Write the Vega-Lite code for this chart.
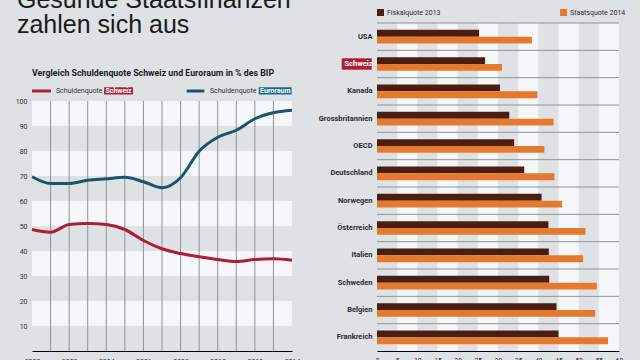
{
  "$schema": "https://vega.github.io/schema/vega-lite/v6.json",
  "width": 588,
  "height": 328,
  "autosize": {"type": "none"},
  "padding": {"left": 32, "top": 23, "right": 20, "bottom": 9},
  "background": "#dfe2e5",
  "config": {
    "view": {"stroke": null},
    "font": "Roboto, sans-serif",
    "axis": {"grid": false, "ticks": false, "labelColor": "#333333", "labelFont": "Roboto, sans-serif", "labelOverlap": false},
    "legend": {"labelFont": "Roboto, sans-serif"}
  },
  "datasets": {
    "debt": [
      {"year": 2000, "series": "Schweiz", "value": 48.6},
      {"year": 2001, "series": "Schweiz", "value": 47.5},
      {"year": 2002, "series": "Schweiz", "value": 50.6},
      {"year": 2003, "series": "Schweiz", "value": 51.0},
      {"year": 2004, "series": "Schweiz", "value": 50.6},
      {"year": 2005, "series": "Schweiz", "value": 48.6},
      {"year": 2006, "series": "Schweiz", "value": 44.2},
      {"year": 2007, "series": "Schweiz", "value": 40.9},
      {"year": 2008, "series": "Schweiz", "value": 39.0},
      {"year": 2009, "series": "Schweiz", "value": 37.7},
      {"year": 2010, "series": "Schweiz", "value": 36.6},
      {"year": 2011, "series": "Schweiz", "value": 35.8},
      {"year": 2012, "series": "Schweiz", "value": 36.6},
      {"year": 2013, "series": "Schweiz", "value": 36.9},
      {"year": 2014, "series": "Schweiz", "value": 36.3},
      {"year": 2000, "series": "Euroraum", "value": 69.7},
      {"year": 2001, "series": "Euroraum", "value": 67.0},
      {"year": 2002, "series": "Euroraum", "value": 67.0},
      {"year": 2003, "series": "Euroraum", "value": 68.3},
      {"year": 2004, "series": "Euroraum", "value": 68.9},
      {"year": 2005, "series": "Euroraum", "value": 69.5},
      {"year": 2006, "series": "Euroraum", "value": 67.7},
      {"year": 2007, "series": "Euroraum", "value": 65.3},
      {"year": 2008, "series": "Euroraum", "value": 69.3},
      {"year": 2009, "series": "Euroraum", "value": 79.9},
      {"year": 2010, "series": "Euroraum", "value": 85.5},
      {"year": 2011, "series": "Euroraum", "value": 88.3},
      {"year": 2012, "series": "Euroraum", "value": 92.9},
      {"year": 2013, "series": "Euroraum", "value": 95.3},
      {"year": 2014, "series": "Euroraum", "value": 96.3}
    ],
    "quota": [
      {"country": "USA", "series": "Fiskalquote 2013", "value": 25.3},
      {"country": "USA", "series": "Staatsquote 2014", "value": 38.4},
      {"country": "Schweiz", "series": "Fiskalquote 2013", "value": 26.8},
      {"country": "Schweiz", "series": "Staatsquote 2014", "value": 31.0},
      {"country": "Kanada", "series": "Fiskalquote 2013", "value": 30.5},
      {"country": "Kanada", "series": "Staatsquote 2014", "value": 39.8},
      {"country": "Grossbritannien", "series": "Fiskalquote 2013", "value": 32.8},
      {"country": "Grossbritannien", "series": "Staatsquote 2014", "value": 43.8},
      {"country": "OECD", "series": "Fiskalquote 2013", "value": 34.0},
      {"country": "OECD", "series": "Staatsquote 2014", "value": 41.5},
      {"country": "Deutschland", "series": "Fiskalquote 2013", "value": 36.5},
      {"country": "Deutschland", "series": "Staatsquote 2014", "value": 44.0},
      {"country": "Norwegen", "series": "Fiskalquote 2013", "value": 40.8},
      {"country": "Norwegen", "series": "Staatsquote 2014", "value": 45.9},
      {"country": "Österreich", "series": "Fiskalquote 2013", "value": 42.5},
      {"country": "Österreich", "series": "Staatsquote 2014", "value": 51.7},
      {"country": "Italien", "series": "Fiskalquote 2013", "value": 42.6},
      {"country": "Italien", "series": "Staatsquote 2014", "value": 51.1},
      {"country": "Schweden", "series": "Fiskalquote 2013", "value": 42.7},
      {"country": "Schweden", "series": "Staatsquote 2014", "value": 54.5},
      {"country": "Belgien", "series": "Fiskalquote 2013", "value": 44.5},
      {"country": "Belgien", "series": "Staatsquote 2014", "value": 54.1},
      {"country": "Frankreich", "series": "Fiskalquote 2013", "value": 45.0},
      {"country": "Frankreich", "series": "Staatsquote 2014", "value": 57.3}
    ],
    "hbands": [
      {"lo": 90, "hi": 100},
      {"lo": 70, "hi": 80},
      {"lo": 50, "hi": 60},
      {"lo": 30, "hi": 40},
      {"lo": 10, "hi": 20}
    ],
    "vbands": [
      {"lo": 5, "hi": 10},
      {"lo": 15, "hi": 20},
      {"lo": 25, "hi": 30},
      {"lo": 35, "hi": 40},
      {"lo": 45, "hi": 50},
      {"lo": 55, "hi": 60}
    ]
  },
  "resolve": {"scale": {"x": "independent", "y": "independent", "color": "independent"}},
  "layer": [
    {
      "layer": [
        {
          "data": {"name": "hbands"},
          "mark": {"type": "rect", "fill": "#f5f6f8"},
          "encoding": {
            "x": {"datum": 2000, "type": "quantitative",
                  "scale": {"domain": [2000, 2014], "range": [0, 260], "nice": false, "zero": false}},
            "x2": {"datum": 2014},
            "y": {"field": "lo", "type": "quantitative",
                  "scale": {"domain": [0, 100], "range": [328, 78], "nice": false, "zero": false}},
            "y2": {"field": "hi"}
          }
        },
        {
          "data": {"name": "debt"},
          "transform": [{"filter": "datum.series == 'Schweiz' && datum.year > 2000 && datum.year < 2014"}],
          "mark": {"type": "rule", "color": "#8e9398", "strokeWidth": 1},
          "encoding": {
            "x": {"field": "year", "type": "quantitative"},
            "y": {"datum": 0},
            "y2": {"datum": 100}
          }
        },
        {
          "data": {"name": "debt"},
          "mark": {"type": "line", "strokeWidth": 3, "interpolate": "monotone"},
          "encoding": {
            "x": {"field": "year", "type": "quantitative",
                  "scale": {"domain": [2000, 2014], "range": [0, 260], "nice": false, "zero": false},
                  "axis": {"title": null, "orient": "bottom", "values": [2000, 2002, 2004, 2006, 2008, 2010, 2012, 2014], "tickCount": 30, "format": "d", "labelPadding": 6, "labelFontSize": 7, "labelOverlap": false, "labelFlush": false, "domainColor": "#000000", "domainWidth": 1}},
            "y": {"field": "value", "type": "quantitative",
                  "scale": {"domain": [0, 100], "range": [328, 78], "nice": false, "zero": false},
                  "axis": {"title": null, "orient": "left", "values": [10, 20, 30, 40, 50, 60, 70, 80, 90, 100], "tickCount": 30, "labelPadding": 5, "labelFontSize": 7, "labelOverlap": false, "labelFlush": false, "domain": false}},
            "color": {"field": "series", "type": "nominal", "scale": {"domain": ["Schweiz", "Euroraum"], "range": ["#ab1f36", "#17566e"]}, "legend": null}
          }
        },
        {
          "data": {"values": [{}]},
          "mark": {"type": "text", "text": "Gesunde Staatsfinanzen", "align": "left", "baseline": "alphabetic", "fontSize": 25, "font": "Liberation Sans, Arial, sans-serif", "color": "#1a1a1a"},
          "encoding": {"x": {"datum": 1999.19}, "y": {"datum": 137.1}}
        },
        {
          "data": {"values": [{}]},
          "mark": {"type": "text", "text": "zahlen sich aus", "align": "left", "baseline": "alphabetic", "fontSize": 25, "font": "Liberation Sans, Arial, sans-serif", "color": "#1a1a1a"},
          "encoding": {"x": {"datum": 1999.19}, "y": {"datum": 127.1}}
        },
        {
          "data": {"values": [{}]},
          "mark": {"type": "text", "text": "Vergleich Schuldenquote Schweiz und Euroraum in % des BIP", "align": "left", "baseline": "alphabetic", "fontSize": 8.8, "fontWeight": "bold", "color": "#1a1a1a"},
          "encoding": {"x": {"datum": 2000}, "y": {"datum": 110}}
        },
        {
          "data": {"values": [{}]},
          "mark": {"type": "rule", "color": "#ab1f36", "strokeWidth": 3},
          "encoding": {"x": {"datum": 2000}, "x2": {"datum": 2001.02}, "y": {"datum": 104}}
        },
        {
          "data": {"values": [{}]},
          "mark": {"type": "text", "text": "Schuldenquote", "align": "left", "baseline": "middle", "fontSize": 7, "color": "#333333"},
          "encoding": {"x": {"datum": 2001.29}, "y": {"datum": 104}}
        },
        {
          "data": {"values": [{}]},
          "mark": {"type": "rect", "fill": "#b01f38"},
          "encoding": {"x": {"datum": 2003.88}, "x2": {"datum": 2005.44}, "y": {"datum": 102.6}, "y2": {"datum": 105.5}}
        },
        {
          "data": {"values": [{}]},
          "mark": {"type": "text", "text": "Schweiz", "align": "center", "baseline": "middle", "fontSize": 7, "fontWeight": "bold", "color": "#ffffff"},
          "encoding": {"x": {"datum": 2004.66}, "y": {"datum": 104}}
        },
        {
          "data": {"values": [{}]},
          "mark": {"type": "rule", "color": "#17566e", "strokeWidth": 3},
          "encoding": {"x": {"datum": 2008.33}, "x2": {"datum": 2009.28}, "y": {"datum": 104}}
        },
        {
          "data": {"values": [{}]},
          "mark": {"type": "text", "text": "Schuldenquote", "align": "left", "baseline": "middle", "fontSize": 7, "color": "#333333"},
          "encoding": {"x": {"datum": 2009.58}, "y": {"datum": 104}}
        },
        {
          "data": {"values": [{}]},
          "mark": {"type": "rect", "fill": "#1d6a87"},
          "encoding": {"x": {"datum": 2012.21}, "x2": {"datum": 2013.98}, "y": {"datum": 102.6}, "y2": {"datum": 105.5}}
        },
        {
          "data": {"values": [{}]},
          "mark": {"type": "text", "text": "Euroraum", "align": "center", "baseline": "middle", "fontSize": 7, "fontWeight": "bold", "color": "#ffffff"},
          "encoding": {"x": {"datum": 2013.1}, "y": {"datum": 104}}
        }
      ]
    },
    {
      "layer": [
        {
          "data": {"name": "vbands"},
          "mark": {"type": "rect", "fill": "#f5f6f8"},
          "encoding": {
            "x": {"field": "lo", "type": "quantitative",
                  "scale": {"domain": [0, 60], "range": [345, 587], "nice": false, "zero": false}},
            "x2": {"field": "hi"}
          }
        },
        {
          "data": {"name": "quota"},
          "transform": [{"filter": "datum.series == 'Fiskalquote 2013'"}],
          "mark": {"type": "rule", "color": "#8e9398", "strokeWidth": 1},
          "encoding": {
            "y": {"field": "country", "type": "nominal", "bandPosition": 0,
                  "scale": {"domain": ["USA", "Schweiz", "Kanada", "Grossbritannien", "OECD", "Deutschland", "Norwegen", "Österreich", "Italien", "Schweden", "Belgien", "Frankreich"], "paddingInner": 0, "paddingOuter": 0}},
            "x": {"datum": 0},
            "x2": {"datum": 60}
          }
        },
        {
          "data": {"values": [{}]},
          "mark": {"type": "bar", "fill": "#b01f38", "height": {"band": 0.42}},
          "encoding": {
            "x": {"datum": -8.75},
            "x2": {"datum": -1.31},
            "y": {"datum": "Schweiz", "type": "nominal"}
          }
        },
        {
          "data": {"name": "quota"},
          "mark": {"type": "bar"},
          "encoding": {
            "y": {"field": "country", "type": "nominal",
                  "scale": {"domain": ["USA", "Schweiz", "Kanada", "Grossbritannien", "OECD", "Deutschland", "Norwegen", "Österreich", "Italien", "Schweden", "Belgien", "Frankreich"], "paddingInner": 0, "paddingOuter": 0},
                  "axis": {"title": null, "orient": "left", "offset": -345, "labelPadding": 5, "labelFontSize": 7.5, "labelFontWeight": "bold", "labelColor": {"expr": "datum.value === 'Schweiz' ? '#ffffff' : '#2b2b2b'"}, "domain": false, "ticks": false, "zindex": 1}},
            "x": {"field": "value", "type": "quantitative",
                  "scale": {"domain": [0, 60], "range": [345, 587], "nice": false, "zero": false},
                  "axis": {"title": null, "orient": "bottom", "values": [0, 5, 10, 15, 20, 25, 30, 35, 40, 45, 50, 55, 60], "tickCount": 30, "labelPadding": 6, "labelFontSize": 6.5, "labelOverlap": false, "labelFlush": false, "domainColor": "#000000", "domainWidth": 1}},
            "yOffset": {"field": "series", "type": "nominal", "scale": {"domain": ["Fiskalquote 2013", "Staatsquote 2014"], "paddingInner": 0, "paddingOuter": 1.04}},
            "color": {"field": "series", "type": "nominal",
                      "scale": {"domain": ["Fiskalquote 2013", "Staatsquote 2014"], "range": ["#4a1f12", "#e57a2e"]},
                      "legend": {"title": null, "orient": "none", "legendX": 345, "legendY": -14, "direction": "horizontal", "symbolType": "square", "symbolSize": 49, "symbolStrokeWidth": 0, "labelFontSize": 7, "labelColor": "#2b2b2b", "labelOffset": 3, "columnPadding": 119, "padding": 0}}
          }
        }
      ]
    }
  ]
}
